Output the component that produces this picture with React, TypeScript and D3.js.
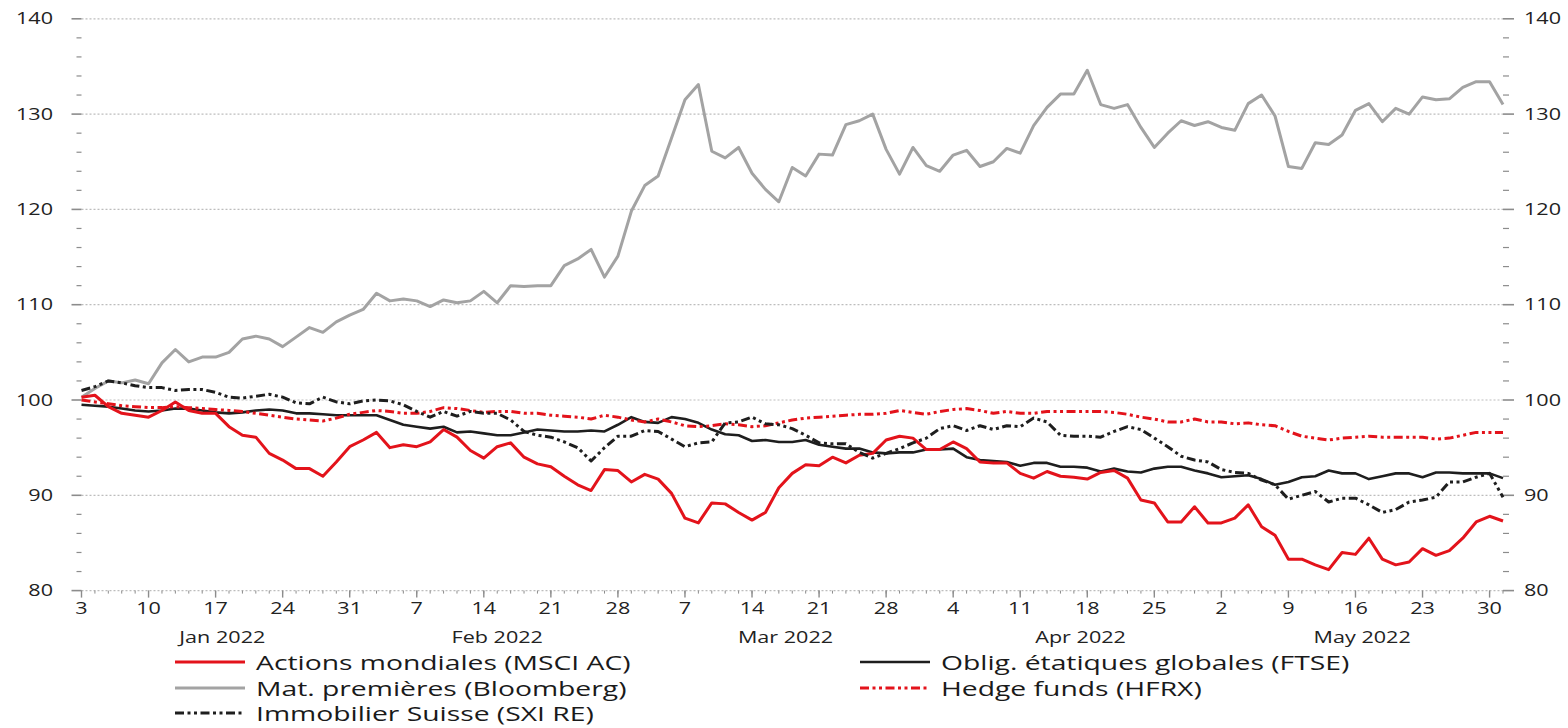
import React from "react";
import * as d3 from "d3";

// ---- Data (trading days 3 Jan 2022 – 31 May 2022, index 100 = 31 Dec 2021) ----
const actionsMondiales = [
  100.3, 100.5, 99.3, 98.6, 98.4,
  98.2, 98.9, 99.8, 98.9, 98.6,
  98.6, 97.2, 96.3, 96.1, 94.4,
  93.7, 92.8, 92.8, 92.0, 93.5,
  95.1, 95.8, 96.6, 95.0, 95.3,
  95.1, 95.6, 96.9, 96.1, 94.7,
  93.9, 95.1, 95.5, 94.0, 93.3,
  93.0, 92.0, 91.1, 90.5, 92.7,
  92.6, 91.4, 92.2, 91.7, 90.2,
  87.6, 87.1, 89.2, 89.1, 88.2,
  87.4, 88.2, 90.8, 92.3, 93.2,
  93.1, 94.0, 93.4, 94.2, 94.4,
  95.8, 96.2, 96.0, 94.8, 94.8,
  95.6, 94.9, 93.5, 93.4, 93.4,
  92.3, 91.8, 92.5, 92.0, 91.9,
  91.7, 92.4, 92.6, 91.8, 89.5,
  89.2, 87.2, 87.2, 88.8, 87.1,
  87.1, 87.6, 89.0, 86.7, 85.8,
  83.3, 83.3, 82.7, 82.2, 84.0,
  83.8, 85.5, 83.3, 82.7, 83.0,
  84.4, 83.7, 84.2, 85.5, 87.2,
  87.8, 87.3,
];

const obligEtatiques = [
  99.5, 99.4, 99.3, 99.1, 98.9,
  98.8, 98.9, 99.1, 99.1, 98.9,
  98.7, 98.6, 98.7, 98.9, 99.0,
  98.9, 98.6, 98.6, 98.5, 98.4,
  98.4, 98.4, 98.4, 97.9, 97.4,
  97.2, 97.0, 97.2, 96.6, 96.7,
  96.5, 96.3, 96.3, 96.6, 96.9,
  96.8, 96.7, 96.7, 96.8, 96.7,
  97.4, 98.2, 97.7, 97.6, 98.2,
  98.0, 97.6, 96.9, 96.4, 96.3,
  95.7, 95.8, 95.6, 95.6, 95.8,
  95.3, 95.1, 94.9, 94.9, 94.5,
  94.4, 94.5, 94.5, 94.8, 94.8,
  94.9, 94.0, 93.7, 93.6, 93.5,
  93.1, 93.4, 93.4, 93.0, 93.0,
  92.9, 92.5, 92.8, 92.5, 92.4,
  92.8, 93.0, 93.0, 92.6, 92.3,
  91.9, 92.0, 92.1, 91.7, 91.1,
  91.4, 91.9, 92.0, 92.6, 92.3,
  92.3, 91.7, 92.0, 92.3, 92.3,
  91.9, 92.4, 92.4, 92.3, 92.3,
  92.3, 91.8,
];

const matPremieres = [
  100.3, 101.2, 102.0, 101.8, 102.1,
  101.7, 103.9, 105.3, 104.0, 104.5,
  104.5, 105.0, 106.4, 106.7, 106.4,
  105.6, 106.6, 107.6, 107.1, 108.2,
  108.9, 109.5, 111.2, 110.4, 110.6,
  110.4, 109.8, 110.5, 110.2, 110.4,
  111.4, 110.2, 112.0, 111.9, 112.0,
  112.0, 114.1, 114.8, 115.8, 112.9,
  115.1, 119.8, 122.5, 123.5, 127.5,
  131.5, 133.1, 126.1, 125.4, 126.5,
  123.8, 122.1, 120.8, 124.4, 123.5,
  125.8, 125.7, 128.9, 129.3, 130.0,
  126.3, 123.7, 126.5, 124.6, 124.0,
  125.7, 126.2, 124.5, 125.0, 126.4,
  125.9, 128.8, 130.7, 132.1, 132.1,
  134.6, 131.0, 130.6, 131.0, 128.6,
  126.5, 128.0, 129.3, 128.8, 129.2,
  128.6, 128.3, 131.1, 132.0, 129.8,
  124.5, 124.3, 127.0, 126.8, 127.8,
  130.4, 131.1, 129.2, 130.6, 130.0,
  131.8, 131.5, 131.6, 132.8, 133.4,
  133.4, 131.0,
];

const hedgeFunds = [
  100.0, 99.8, 99.6, 99.4, 99.3,
  99.2, 99.2, 99.3, 99.2, 99.1,
  99.0, 98.9, 98.8, 98.6, 98.4,
  98.2, 98.0, 97.9, 97.8, 98.1,
  98.5, 98.7, 98.9, 98.8, 98.6,
  98.6, 98.8, 99.2, 99.1, 98.9,
  98.7, 98.8, 98.8, 98.6, 98.6,
  98.4, 98.3, 98.2, 98.0, 98.4,
  98.2, 97.9, 97.7, 98.0, 97.7,
  97.3, 97.2, 97.3, 97.5, 97.4,
  97.2, 97.3, 97.6, 97.9, 98.1,
  98.2, 98.3, 98.4, 98.5, 98.5,
  98.6, 98.9, 98.7, 98.5, 98.8,
  99.0, 99.1, 98.9, 98.6, 98.8,
  98.6, 98.6, 98.8, 98.8, 98.8,
  98.8, 98.8, 98.7, 98.5, 98.2,
  98.0, 97.7, 97.7, 98.0, 97.7,
  97.7, 97.5, 97.6, 97.4, 97.3,
  96.7, 96.2, 96.0, 95.8, 96.0,
  96.1, 96.2, 96.1, 96.1, 96.1,
  96.1, 95.9, 96.0, 96.3, 96.6,
  96.6, 96.6,
];

const immobilierSuisse = [
  101.0, 101.4, 102.0, 101.8, 101.5,
  101.3, 101.3, 101.0, 101.1, 101.1,
  100.8, 100.3, 100.2, 100.4, 100.6,
  100.3, 99.7, 99.6, 100.3, 99.8,
  99.6, 99.9, 100.0, 99.9, 99.5,
  98.8, 98.2, 98.8, 98.3, 98.8,
  98.6, 98.6, 97.9, 96.7, 96.3,
  96.1, 95.6, 95.0, 93.6, 95.0,
  96.2, 96.2, 96.8, 96.7, 95.9,
  95.1, 95.5, 95.6, 97.6, 97.7,
  98.2, 97.5, 97.4, 97.0, 96.3,
  95.5, 95.4, 95.4, 94.5, 93.9,
  94.4, 94.9, 95.5, 96.0, 97.0,
  97.3, 96.8, 97.3, 96.9, 97.3,
  97.2, 98.1, 97.7, 96.3, 96.2,
  96.2, 96.1, 96.7, 97.2, 96.9,
  96.0, 95.1, 94.1, 93.7, 93.5,
  92.7, 92.4, 92.3, 91.6, 91.1,
  89.6, 90.0, 90.4, 89.3, 89.7,
  89.7, 89.0, 88.2, 88.5, 89.3,
  89.5, 89.8, 91.4, 91.4, 91.9,
  92.3, 89.8,
];

const yTickValues = [80, 90, 100, 110, 120, 130, 140];
const weekTickLabels = [
  "3", "10", "17", "24", "31", "7", "14", "21", "28", "7", "14",
  "21", "28", "4", "11", "18", "25", "2", "9", "16", "23", "30",
];
const monthLabels = ["Jan 2022", "Feb 2022", "Mar 2022", "Apr 2022", "May 2022"];

const seriesNames = [
  "Actions mondiales (MSCI AC)",
  "Oblig. étatiques globales (FTSE)",
  "Mat. premières (Bloomberg)",
  "Hedge funds (HFRX)",
  "Immobilier Suisse (SXI RE)",
];

// ---- Styling ----
const RED = "#e3131b";
const BLACK = "#1e1e1e";
const GREY = "#a3a3a3";
const DASH = "9,3.5,3,3.5,3,3.5";
const FONT = "'Open Sans', sans-serif";
const SX = 1.35; // horizontal stretch of the reference text
const SX_LEG = 1.38;

const W = 1568;
const H = 728;
const X0 = 81.5;
const X1 = 1503;
const YTOP = 18.8;
const YBOT = 590.6;

const tradingDays: Date[] = d3
  .timeDay.range(new Date(2022, 0, 3), new Date(2022, 5, 1))
  .filter((d) => d.getDay() !== 0 && d.getDay() !== 6);

export default function App() {
  const x = d3.scaleLinear().domain([0, tradingDays.length - 1]).range([X0, X1]);
  const y = d3.scaleLinear().domain([80, 140]).range([YBOT, YTOP]);

  const line = d3
    .line<number>()
    .x((_, i) => x(i))
    .y((v) => y(v));

  const series = [
    { name: seriesNames[2], data: matPremieres, color: GREY, width: 3, dash: undefined },
    { name: seriesNames[1], data: obligEtatiques, color: BLACK, width: 2.6, dash: undefined },
    { name: seriesNames[0], data: actionsMondiales, color: RED, width: 3, dash: undefined },
    { name: seriesNames[3], data: hedgeFunds, color: RED, width: 3, dash: DASH },
    { name: seriesNames[4], data: immobilierSuisse, color: BLACK, width: 3, dash: DASH },
  ];

  const mondayIdx = tradingDays
    .map((d, i) => (d.getDay() === 1 ? i : -1))
    .filter((i) => i >= 0);

  // month spans
  const monthStarts: number[] = [];
  tradingDays.forEach((d, i) => {
    if (i === 0 || d.getMonth() !== tradingDays[i - 1].getMonth()) monthStarts.push(i);
  });
  const monthCenters = monthStarts.map((s, k) => {
    const e = k + 1 < monthStarts.length ? monthStarts[k + 1] : tradingDays.length - 1;
    return (x(s) + x(e)) / 2;
  });

  const minorY = d3.range(80, 141, 2);

  const legendItems = [
    { label: seriesNames[0], color: RED, dash: undefined, w: 3, col: 0, row: 0 },
    { label: seriesNames[2], color: GREY, dash: undefined, w: 3, col: 0, row: 1 },
    { label: seriesNames[4], color: BLACK, dash: DASH, w: 3, col: 0, row: 2 },
    { label: seriesNames[1], color: BLACK, dash: undefined, w: 2.6, col: 1, row: 0 },
    { label: seriesNames[3], color: RED, dash: DASH, w: 3, col: 1, row: 1 },
  ];
  const legendCols = [175, 860];
  const legendRows = [662, 688, 713];

  return (
    <svg
      width={W}
      height={H}
      style={{ position: "absolute", left: 0, top: 0, background: "#fff" }}
      fontFamily={FONT}
    >
      {/* gridlines */}
      {yTickValues.map((v) => (
        <line
          key={"g" + v}
          x1={X0}
          x2={X1}
          y1={y(v)}
          y2={y(v)}
          stroke="#bdbdbd"
          strokeWidth={1.2}
          strokeDasharray="2,2"
        />
      ))}

      {/* left / right minor + major ticks */}
      {minorY.map((v) => {
        const major = v % 10 === 0;
        return (
          <g key={"yt" + v} stroke="#8c8c8c" strokeWidth={major ? 1.6 : 1.2}>
            <line x1={X0 - (major ? 10 : 5)} x2={X0} y1={y(v)} y2={y(v)} />
            <line x1={X1} x2={X1 + (major ? 11 : 6)} y1={y(v)} y2={y(v)} />
          </g>
        );
      })}

      {/* y labels */}
      {yTickValues.map((v) => (
        <g key={"yl" + v}>
          <text
            transform={`translate(${53},${y(v) + 5.5}) scale(${SX},1)`}
            textAnchor="end"
            fontSize={16}
            fill="#222"
          >
            {v}
          </text>
          <text
            transform={`translate(${1524},${y(v) + 5.5}) scale(${SX},1)`}
            textAnchor="start"
            fontSize={16}
            fill="#222"
          >
            {v}
          </text>
        </g>
      ))}

      {/* x axis ticks */}
      {tradingDays.map((_, i) => (
        <line
          key={"xm" + i}
          x1={x(i)}
          x2={x(i)}
          y1={YBOT}
          y2={YBOT + 3}
          stroke="#8c8c8c"
          strokeWidth={1}
        />
      ))}
      {mondayIdx.map((i, k) => (
        <g key={"xM" + i}>
          <line x1={x(i)} x2={x(i)} y1={YBOT} y2={YBOT + 7} stroke="#8c8c8c" strokeWidth={1.4} />
          <text
            transform={`translate(${x(i)},${YBOT + 23}) scale(${SX},1)`}
            textAnchor="middle"
            fontSize={16}
            fill="#222"
          >
            {weekTickLabels[k]}
          </text>
        </g>
      ))}
      {monthLabels.map((m, k) => (
        <text
          key={m}
          transform={`translate(${monthCenters[k]},${YBOT + 52}) scale(${SX},1)`}
          textAnchor="middle"
          fontSize={16}
          fill="#222"
        >
          {m}
        </text>
      ))}

      {/* series */}
      {series.map((s) => (
        <path
          key={s.name}
          d={line(s.data) || ""}
          fill="none"
          stroke={s.color}
          strokeWidth={s.width}
          strokeDasharray={s.dash}
          strokeLinejoin="round"
        />
      ))}

      {/* legend */}
      {legendItems.map((it) => {
        const lx = legendCols[it.col];
        const ly = legendRows[it.row];
        return (
          <g key={it.label}>
            <line
              x1={lx}
              x2={lx + 70}
              y1={ly}
              y2={ly}
              stroke={it.color}
              strokeWidth={it.w}
              strokeDasharray={it.dash}
            />
            <text
              transform={`translate(${lx + 81},${ly + 7.5}) scale(${SX_LEG},1)`}
              fontSize={20.5}
              fill="#1a1a1a"
            >
              {it.label}
            </text>
          </g>
        );
      })}
    </svg>
  );
}
